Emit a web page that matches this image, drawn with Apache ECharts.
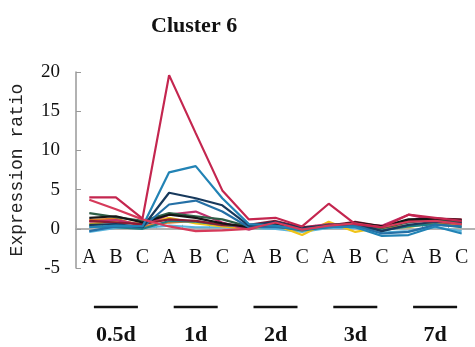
<!DOCTYPE html>
<html><head><meta charset="utf-8">
<script src="https://cdn.jsdelivr.net/npm/echarts@6/dist/echarts.min.js"></script>
<style>html,body{margin:0;padding:0;background:#fff}#c{width:475px;height:347px}</style>
</head><body><div id="c"></div>
<script>
const categories = ['A','B','C','A','B','C','A','B','C','A','B','C','A','B','C'];
const groups = ['0.5d','1d','2d','3d','7d'];
const yTicks = [-5, 0, 5, 10, 15, 20];

const sCrimson  = [4.0, 4.0, 1.3, 19.6, 12.2, 4.9, 1.2, 1.4, 0.3, 3.2, 0.6, 0.2, 1.8, 1.4, 1.0];
const sRedPink  = [3.7, 2.5, 1.2, 0.3, -0.3, -0.2, 0.0, 0.8, -0.1, 0.4, 0.7, 0.2, 0.9, 1.0, 0.6];
const sTeal     = [0.2, 0.4, 0.3, 7.2, 8.0, 3.9, 0.6, 0.4, -0.1, 0.3, 0.2, -0.9, -0.8, 0.3, -0.6];
const sNavy     = [0.5, 0.6, 0.2, 4.6, 3.9, 3.0, 0.4, 0.9, 0.1, 0.4, 0.7, -0.3, 0.5, 0.9, 0.7];
const sBlue     = [-0.3, 0.3, 0.2, 3.1, 3.6, 2.2, 0.2, 0.2, 0.0, 0.2, 0.4, -0.6, -0.4, 0.5, 0.3];
const sGreen    = [2.0, 1.5, 1.0, 2.0, 1.6, 1.2, 0.3, 0.5, 0.0, 0.5, 0.6, 0.1, 0.8, 1.2, 0.9];
const sBlack    = [1.4, 1.6, 0.8, 1.8, 1.4, 0.7, 0.2, 0.6, 0.1, 0.3, 0.8, 0.3, 1.2, 1.3, 1.1];
const sMagenta  = [0.9, 1.1, 0.5, 1.8, 2.2, 0.8, -0.1, 0.9, 0.2, 0.6, 0.5, 0.4, 1.8, 1.1, 0.8];
const sOrange   = [1.1, 1.3, 0.3, 0.8, 1.0, 0.4, 0.2, 0.3, -0.2, 0.5, 0.3, 0.1, 0.4, 0.7, 0.5];
const sYellow   = [0.6, 1.0, 0.6, 1.4, 0.7, 0.3, 0.0, 0.5, -0.8, 0.9, -0.4, 0.2, 0.2, 0.8, 0.6];
const sLightBlue= [-0.4, 0.1, 0.1, 0.4, 0.2, 0.2, 0.1, 0.0, -0.4, 0.1, 0.1, -0.5, -0.3, 0.2, -0.3];
const sDarkTeal = [0.3, 0.2, 0.0, 1.0, 0.9, 0.5, 0.2, 0.3, -0.2, 0.2, 0.4, -0.2, 0.3, 0.6, 0.2];
const sDarkRed  = [1.0, 0.8, 0.6, 1.2, 1.0, 0.5, 0.5, 1.0, 0.2, 0.4, 0.9, 0.3, 1.0, 1.3, 1.2];

const seriesDefs = [
  [sLightBlue, '#5ab4dc'], [sYellow, '#f0c418'], [sOrange, '#e07b28'],
  [sDarkTeal, '#1c7f86'], [sMagenta, '#c0306e'], [sDarkRed, '#8a1c34'],
  [sGreen, '#2e5e46'], [sBlack, '#151515'], [sBlue, '#2570a6'],
  [sNavy, '#17395c'], [sTeal, '#2283b5'], [sRedPink, '#d63a5a'], [sCrimson, '#c4264f']
];

const chart = echarts.init(document.getElementById('c'), null, {renderer: 'canvas'});
chart.setOption({
  animation: false,
  title: {
    text: 'Cluster 6', left: 146, top: 10,
    textStyle: {fontFamily: 'Liberation Serif', fontWeight: 'bold', fontSize: 22, color: '#111'}
  },
  grid: {left: 70, right: 0, top: 72, bottom: 79},
  xAxis: [{
    type: 'category', data: categories, boundaryGap: true,
    axisLine: {onZero: true, lineStyle: {color: '#999', width: 1.5}},
    axisTick: {show: true, inside: true, length: 4, lineStyle: {color: '#aaa'}},
    axisLabel: {margin: -20, interval: 0, fontFamily: 'Liberation Serif', fontSize: 20, color: '#111'}
  }, {
    type: 'category', data: groups, position: 'bottom', boundaryGap: true,
    axisLine: {show: false, onZero: false}, axisTick: {show: false},
    axisLabel: {
      margin: 32, interval: 0,
      formatter: v => '{bar|}\n{t|' + v + '}',
      rich: {
        bar: {width: 44, height: 2.5, backgroundColor: '#111', lineHeight: 14},
        t: {fontFamily: 'Liberation Serif', fontWeight: 'bold', fontSize: 22, color: '#111', lineHeight: 42}
      }
    }
  }],
  yAxis: {
    type: 'value', min: yTicks[0], max: yTicks[yTicks.length - 1], interval: 5,
    name: 'Expression ratio', nameLocation: 'middle', nameRotate: 90, nameGap: 50,
    nameTextStyle: {fontFamily: 'Liberation Mono', fontSize: 18, color: '#222'},
    axisLine: {show: true, lineStyle: {color: '#999', width: 1.5}},
    axisTick: {show: true, inside: true, length: 5, lineStyle: {color: '#999'}},
    splitLine: {show: false},
    axisLabel: {fontFamily: 'Liberation Serif', fontSize: 19, color: '#111', margin: 16}
  },
  series: seriesDefs.map(([d, c]) => ({
    type: 'line', data: d, xAxisIndex: 0, symbol: 'none',
    lineStyle: {color: c, width: 2.2}, itemStyle: {color: c}
  }))
});
</script></body></html>
